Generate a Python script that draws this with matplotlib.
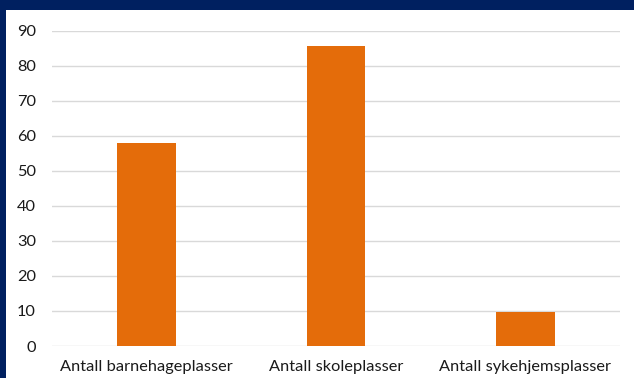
import matplotlib
matplotlib.use("Agg")
import matplotlib.pyplot as plt
from matplotlib.patches import Rectangle

categories = ["Antall barnehageplasser", "Antall skoleplasser", "Antall sykehjemsplasser"]
values = [58, 85.6, 9.7]
yticks = [0, 10, 20, 30, 40, 50, 60, 70, 80, 90]

W, H = 634, 378
fig = plt.figure(figsize=(W / 100, H / 100), dpi=100)
fig.patch.set_facecolor("#002060")
# white panel inside the navy frame
fig.add_artist(Rectangle((6 / W, 0), 1 - 6 / W, (H - 10) / H,
                         transform=fig.transFigure, facecolor="white",
                         edgecolor="none", zorder=0))

ax = fig.add_axes([52 / W, (H - 346) / H, (620 - 52) / W, (346 - 30.7) / H])
ax.set_facecolor("none")
x = range(len(categories))
ax.bar(x, values, width=0.31, color="#E46C0A", zorder=3)
ax.set_xlim(-0.5, len(categories) - 0.5)
ax.set_ylim(0, 90)
ax.set_yticks(yticks)
ax.set_xticks(list(x))
ax.set_xticklabels(categories)
ax.grid(axis="y", color="#d9d9d9", linewidth=1.0, zorder=0)
for s in ax.spines.values():
    s.set_visible(False)
ax.tick_params(axis="both", length=0, labelsize=11.8, labelcolor="#1a1a1a")
ax.tick_params(axis="y", pad=11.5)
ax.tick_params(axis="x", pad=10)
for lab in ax.get_xticklabels() + ax.get_yticklabels():
    lab.set_fontfamily("Lato")

fig.savefig("out.png", dpi=100, facecolor=fig.get_facecolor())
